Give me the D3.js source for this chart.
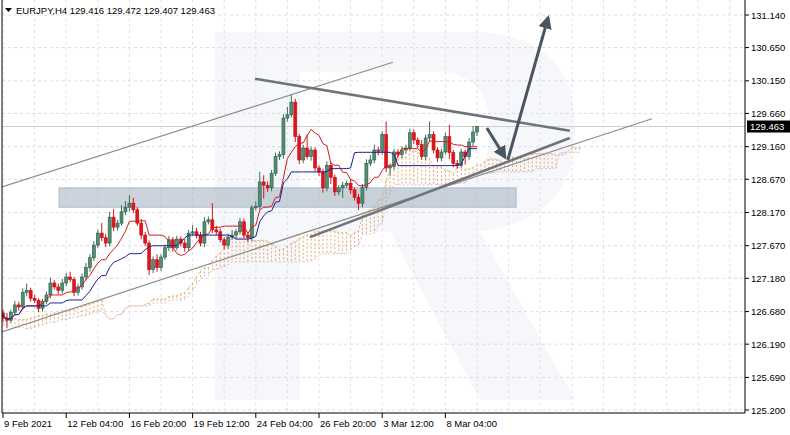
<!DOCTYPE html>
<html><head><meta charset="utf-8">
<script src="https://cdn.jsdelivr.net/npm/d3@7"></script>
<style>body{margin:0;background:#fff}svg{display:block;font-family:"Liberation Sans",Arial,sans-serif}</style>
</head><body><svg id="c" width="790" height="435"></svg>
<script>
const closes=[126.58,126.55,126.67,126.78,126.75,126.97,127.00,126.88,126.85,126.73,
126.83,126.93,127.11,127.05,127.00,127.11,127.20,127.16,126.97,127.05,
127.20,127.34,127.49,127.68,127.86,127.79,127.71,128.10,127.95,128.01,
128.18,128.25,128.31,128.21,128.01,127.83,127.71,127.31,127.46,127.34,
127.50,127.64,127.76,127.64,127.77,127.71,127.64,127.86,127.88,127.83,
127.71,128.03,128.06,127.91,127.88,127.76,127.68,127.80,127.83,127.88,
128.03,127.83,127.79,128.24,128.26,128.63,128.58,128.54,128.76,129.01,
129.04,129.59,129.64,129.83,129.31,128.96,129.14,129.01,129.11,128.84,
128.78,128.54,128.88,128.70,128.48,128.54,128.58,128.61,128.51,128.40,
128.31,128.55,128.91,128.96,129.11,129.09,129.34,128.84,128.86,129.08,
129.04,129.11,129.14,129.37,129.26,129.19,129.01,129.29,129.34,129.11,
128.99,129.08,129.31,129.07,128.91,128.88,129.08,129.01,129.23,129.38,129.463];
const firstOpen=126.66;
const wickUp=[.05,.08,.04,.06,.05,.06,.10,.04,.05,.03,.04,.05,.08,.04,.05,.06,.06,.08,.04,.05,
.05,.07,.05,.06,.05,.15,.06,.08,.12,.05,.10,.09,.12,.08,.04,.06,.05,.04,.05,.08,
.04,.05,.06,.04,.05,.04,.06,.05,.10,.06,.05,.07,.05,.25,.06,.05,.04,.05,.08,.04,
.06,.05,.04,.04,.08,.15,.10,.06,.05,.06,.05,.06,.12,.11,.05,.04,.05,.20,.05,.04,
.04,.05,.06,.05,.04,.04,.05,.04,.06,.04,.05,.05,.06,.07,.08,.05,.05,.20,.05,.05,
.04,.06,.05,.06,.05,.04,.07,.05,.20,.05,.04,.05,.06,.18,.04,.05,.05,.04,.06,.09,.01];
const wickDn=[.05,.12,.04,.05,.06,.04,.06,.05,.04,.06,.05,.04,.05,.04,.06,.05,.05,.04,.06,.05,
.04,.05,.06,.05,.04,.05,.06,.05,.06,.05,.04,.05,.06,.05,.04,.06,.05,.08,.05,.06,
.05,.04,.05,.06,.04,.05,.06,.05,.04,.05,.05,.06,.04,.05,.05,.04,.06,.05,.04,.05,
.04,.05,.07,.05,.04,.05,.20,.06,.05,.04,.05,.06,.05,.04,.08,.06,.05,.04,.06,.05,
.06,.07,.05,.10,.06,.05,.15,.04,.06,.05,.10,.06,.05,.04,.05,.06,.05,.06,.12,.05,
.04,.05,.06,.05,.06,.05,.05,.06,.05,.05,.06,.05,.04,.10,.06,.05,.04,.12,.05,.06,.06];
// cloud for the first 26 bars (projected from bars before the visible window)
const cloudHeadA=[126.60,126.60,126.58,126.58,126.56,126.56,126.56,126.58,126.60,126.62,126.62,126.64,126.64,126.66,126.66,126.70,126.70,126.72,126.72,126.74,126.76,126.78,126.80,126.82,126.84,126.86];
const cloudHeadB=[126.48,126.48,126.46,126.46,126.44,126.44,126.42,126.42,126.44,126.46,126.48,126.50,126.52,126.52,126.54,126.56,126.56,126.58,126.60,126.60,126.62,126.62,126.64,126.66,126.68,126.70];
const priceTicks=[131.140,130.650,130.150,129.660,129.160,128.670,128.170,127.670,127.180,126.680,126.190,125.690,125.200];
const timeLabels=["9 Feb 2021","12 Feb 04:00","16 Feb 20:00","19 Feb 12:00","24 Feb 04:00","26 Feb 20:00","3 Mar 12:00","8 Mar 04:00"];
const timeIdx=[0,16,32,48,64,80,96,112];
const lastPrice=129.463;
const title="EURJPY,H4  129.416 129.472 129.407 129.463";
const channelLines=[[[-1,128.54],[98.7,130.43]],[[-1,126.36],[164.3,129.58]]];
const trendLines=[[[63.8,130.18],[143.5,129.40]],[[77.7,127.80],[143.5,129.29]]];
const zone=[[14.2,128.54],[129.9,128.25]];
const arrows=[[[122.5,129.44],[127.1,129.00]],[[127.8,128.96],[138,131.10]]];

const svg=d3.select("#c");
const L=2,R=745,T=0,B=413;
const x=d3.scaleLinear().domain([0,1]).range([3,6.95]);
const y=d3.scaleLinear().domain([125.2,131.14]).range([410,15]);
svg.append("defs").append("clipPath").attr("id","clip").append("rect").attr("x",L).attr("y",T).attr("width",R-L).attr("height",B-T);
const g=svg.append("g").attr("clip-path","url(#clip)");
g.append("path").attr("d","M215,32 L300,32 L300,400 L215,400 Z M300,32 L470,32 Q575,32 575,130 Q575,225 470,232 L300,232 L300,190 L440,190 Q490,185 490,130 Q490,75 440,72 L300,72 Z M390,232 L480,232 L575,400 L480,400 Z").attr("fill","#f5f7fb");
priceTicks.forEach(p=>g.append("line").attr("x1",L).attr("x2",R).attr("y1",y(p)).attr("y2",y(p)).attr("stroke","#dcdcdc").attr("stroke-dasharray","3,3"));
for(let i=0;i<=184;i+=8) g.append("line").attr("x1",x(i)).attr("x2",x(i)).attr("y1",T).attr("y2",B).attr("stroke","#e2e2e2").attr("stroke-dasharray","3,3");
g.append("line").attr("x1",L).attr("x2",R).attr("y1",y(lastPrice)).attr("y2",y(lastPrice)).attr("stroke","#cfcfcf");
const data=closes.map((c,i)=>{const o=i?closes[i-1]:firstOpen;return{i,o,c,h:Math.max(o,c)+wickUp[i],l:Math.min(o,c)-wickDn[i]};});
const mid=(n,i)=>{const s=data.slice(Math.max(0,i-n+1),i+1);return (d3.max(s,d=>d.h)+d3.min(s,d=>d.l))/2;};
const tenkan=data.map(d=>mid(9,d.i)),kijun=data.map(d=>mid(26,d.i));
const cloud=cloudHeadA.map((a,i)=>({i,a,b:cloudHeadB[i]})).concat(data.map(d=>({i:d.i+26,a:(tenkan[d.i]+kijun[d.i])/2,b:mid(52,d.i)})));
cloud.forEach(k=>{g.append("line").attr("x1",x(k.i)).attr("x2",x(k.i)).attr("y1",y(k.a)).attr("y2",y(k.b))
 .attr("stroke",k.a>=k.b?"#e9a868":"#cdbccb").attr("stroke-width",1).attr("stroke-dasharray","2,2");});
const la=d3.line().x(k=>x(k.i));
g.append("path").datum(cloud).attr("d",la.y(k=>y(k.a))).attr("fill","none").attr("stroke","#eab27a").attr("stroke-dasharray","2,2");
g.append("path").datum(cloud).attr("d",la.y(k=>y(k.b))).attr("fill","none").attr("stroke","#d2c0cf").attr("stroke-dasharray","2,2");
g.append("rect").attr("x",x(zone[0][0])).attr("y",y(zone[0][1])).attr("width",x(zone[1][0])-x(zone[0][0])).attr("height",y(zone[1][1])-y(zone[0][1]))
 .attr("fill","#aab6c2").attr("fill-opacity",0.6).attr("stroke","#a9bbd6");
const ln=d3.line().x(p=>x(p[0])).y(p=>y(p[1]));
channelLines.forEach(s=>g.append("path").attr("d",ln(s)).attr("stroke","#8c8c8c").attr("stroke-width",1.2).attr("fill","none"));
data.forEach(d=>{const up=d.c>=d.o,col=up?"#3b6f5a":"#d8141b";
 g.append("line").attr("x1",x(d.i)).attr("x2",x(d.i)).attr("y1",y(d.h)).attr("y2",y(d.l)).attr("stroke",col);
 g.append("rect").attr("x",x(d.i)-1.5).attr("width",3).attr("y",y(Math.max(d.o,d.c))).attr("height",Math.max(1,Math.abs(y(d.o)-y(d.c))))
  .attr("fill",up?"#4f8f73":"#e0141c").attr("stroke",up?"#2f5a48":"#c41016").attr("stroke-width",0.6);});
const li=d3.line().x((v,i)=>x(i)).y(v=>y(v));
g.append("path").attr("d",li(tenkan)).attr("stroke","#d41c1c").attr("fill","none");
g.append("path").attr("d",li(kijun)).attr("stroke","#1a1f96").attr("fill","none");
trendLines.forEach(s=>g.append("path").attr("d",ln(s)).attr("stroke","#6f737b").attr("stroke-width",2.6).attr("fill","none"));
svg.append("defs").append("marker").attr("id","ah").attr("viewBox","0 0 10 10").attr("refX",8).attr("refY",5).attr("markerWidth",4.5).attr("markerHeight",4.5).attr("orient","auto")
 .append("path").attr("d","M0,0 L10,5 L0,10 Z").attr("fill","#4b5562");
arrows.forEach(s=>g.append("path").attr("d",ln(s)).attr("stroke","#4b5562").attr("stroke-width",3).attr("fill","none").attr("marker-end","url(#ah)"));
svg.append("line").attr("x1",L).attr("x2",L).attr("y1",T).attr("y2",B).attr("stroke","#000");
svg.append("line").attr("x1",R).attr("x2",R).attr("y1",T).attr("y2",B).attr("stroke","#000");
svg.append("line").attr("x1",L).attr("x2",R).attr("y1",B).attr("y2",B).attr("stroke","#000");
priceTicks.forEach(p=>{svg.append("line").attr("x1",R).attr("x2",R+4).attr("y1",y(p)).attr("y2",y(p)).attr("stroke","#000");
 svg.append("text").attr("x",751).attr("y",y(p)+3.5).attr("font-size",9.5).attr("fill","#000").text(p.toFixed(3));});
svg.append("rect").attr("x",747).attr("y",y(lastPrice)-6).attr("width",43).attr("height",12).attr("fill","#000");
svg.append("text").attr("x",750).attr("y",y(lastPrice)+3.5).attr("font-size",9.5).attr("fill","#fff").text(lastPrice.toFixed(3));
timeLabels.forEach((t,k)=>{const xx=x(timeIdx[k]);
 svg.append("line").attr("x1",xx).attr("x2",xx).attr("y1",B).attr("y2",B+5).attr("stroke","#000");
 svg.append("text").attr("x",xx+1).attr("y",427).attr("font-size",9.5).attr("fill","#000").text(t);});
svg.append("path").attr("d","M5,8 L12,8 L8.5,12 Z").attr("fill","#000");
svg.append("text").attr("x",16).attr("y",14).attr("font-size",9.5).attr("fill","#000").text(title);
</script></body></html>
